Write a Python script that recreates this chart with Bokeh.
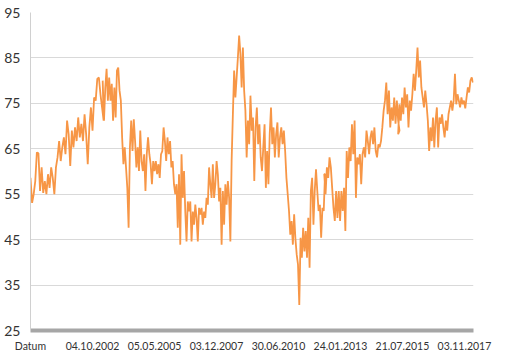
import numpy as np
from bokeh.plotting import figure
from bokeh.models import FixedTicker, Range1d, ColumnDataSource
from bokeh.embed import file_html
from bokeh.resources import INLINE

# Tick labels of the category (date) axis, one every LABEL_STEP trading days
x_tick_labels = ["Datum", "04.10.2002", "05.05.2005", "03.12.2007",
                 "30.06.2010", "24.01.2013", "21.07.2015", "03.11.2017"]
LABEL_STEP = 650
y_ticks = [25, 35, 45, 55, 65, 75, 85, 95]

# Series values, in six consecutive stretches of time
seg1 = [58.6, 53.1, 55.0, 57.9, 64.2, 64.0, 55.7, 60.9, 55.3, 57.9, 55.0, 59.4,
        56.4, 60.9, 58.6, 55.0, 60.9, 63.1, 66.7, 62.3, 65.3, 67.5, 63.8, 71.2,
        68.2, 61.2, 69.0, 65.3, 69.7, 66.7, 71.9, 67.5, 70.5, 66.7, 72.6, 68.2,
        61.6, 69.7, 74.1, 69.0, 76.3, 75.6, 80.4, 80.7, 77.0, 74.1, 71.2]
seg2 = [80.0, 71.2, 78.5, 82.6, 75.6, 80.7, 75.6, 79.3, 71.2, 78.5, 71.9, 82.2,
        82.9, 77.8, 75.6, 67.5, 61.6, 65.3, 60.9, 56.4, 47.6, 65.3, 71.2, 64.5,
        71.5, 66.7, 60.9, 65.3, 60.1, 69.0, 62.3, 60.1, 63.8, 55.7, 63.8, 67.5,
        63.8, 61.6, 57.2, 62.3, 60.1, 62.3, 59.4, 61.6, 58.6, 63.8, 64.5, 69.7,
        66.7, 62.3, 67.5, 63.8, 66.7, 60.9, 62.3, 57.2, 55.0, 57.2, 49.1]
seg3 = [57.2, 47.6, 59.4, 43.9, 63.8, 54.2, 60.1, 51.2, 44.6, 53.4, 51.2, 53.4,
        44.6, 51.2, 48.3, 52.7, 49.8, 44.6, 52.0, 50.5, 52.0, 48.3, 51.2, 49.8,
        54.2, 52.7, 60.9, 57.2, 54.2, 61.6, 54.2, 57.2, 62.3, 59.4, 53.4, 56.4,
        43.9, 55.7, 48.3, 57.2, 52.7, 57.9, 54.2, 44.6, 62.3, 72.6, 82.2, 76.3,
        80.7, 85.1, 89.9, 85.9, 78.5, 87.3, 77.8, 73.4, 63.1, 71.2, 66.0, 76.3, 70.4]
seg4 = [76.7, 69.0, 71.9, 57.9, 69.7, 74.1, 66.0, 70.4, 63.1, 60.1, 65.3, 70.4,
        56.4, 64.5, 57.2, 68.2, 74.1, 66.0, 69.7, 63.1, 68.2, 70.8, 63.1, 67.5,
        69.7, 66.0, 69.0, 64.5, 58.6, 55.0, 51.3, 46.1, 49.1, 43.9, 50.6, 45.1,
        41.7, 39.5, 30.6, 45.4, 41.0, 47.6, 42.4, 46.9, 41.0, 49.8, 38.8, 55.7,
        58.6, 48.3, 55.7, 60.5, 55.7, 51.3, 52.7, 45.4, 52.0, 51.3, 59.4]
seg5 = [59.4, 55.0, 60.9, 58.6, 63.1, 60.9, 56.4, 52.0, 49.1, 55.7, 49.8, 55.7,
        49.1, 55.7, 51.3, 56.4, 46.9, 64.5, 58.6, 65.3, 62.3, 70.4, 63.8, 71.2,
        54.2, 63.1, 61.6, 63.8, 57.2, 63.8, 65.3, 63.1, 69.0, 66.7, 63.8, 67.5,
        69.0, 66.0, 69.7, 64.5, 63.1, 66.0, 65.3, 66.7, 69.7, 73.4, 75.6, 79.6,
        72.6, 77.8, 69.7, 74.1, 71.2, 76.3, 70.5, 75.6, 71.2, 69.0]
seg6 = [68.2, 74.8, 71.2, 76.3, 72.6, 78.5, 74.1, 77.0, 69.7, 75.6, 73.4, 77.0,
        81.5, 77.8, 82.2, 87.3, 80.7, 84.4, 78.5, 76.3, 74.1, 77.8, 74.8, 71.2,
        64.5, 69.7, 66.7, 71.9, 65.3, 71.2, 74.1, 65.3, 71.9, 70.5, 72.6, 69.7,
        67.5, 71.2, 69.0, 72.6, 74.1, 75.6, 73.4, 75.6, 81.5, 74.8, 77.0, 75.6,
        74.1, 76.3, 74.8, 75.6, 73.9, 76.3, 78.5, 77.4, 80.0, 80.7, 79.6]
segments = [seg1, seg2, seg3, seg4, seg5, seg6]
# first / last trading-day index of each stretch
seg_days = [(0, 767), (757, 1545), (1531, 2319), (2306, 3088), (3080, 3869), (3855, 4640)]

xs, ys = [], []
for seg, (d0, d1) in zip(segments, seg_days):
    xs.extend(np.linspace(d0, d1, len(seg)))
    ys.extend(seg)
src = ColumnDataSource(dict(x=xs, y=ys))

p = figure(width=506, height=357, output_backend="svg", toolbar_location=None,
           x_range=Range1d(0, 4645), y_range=Range1d(25, 95),
           min_border_left=30, min_border_right=33, min_border_top=12,
           min_border_bottom=27)
p.outline_line_color = None
p.background_fill_color = "white"
p.border_fill_color = "white"

p.line("x", "y", source=src, line_color="#f79646", line_width=1.8)

p.xgrid.visible = False
p.ygrid.ticker = FixedTicker(ticks=y_ticks)
p.ygrid.grid_line_color = "#d9d9d9"
p.ygrid.grid_line_width = 1

ya = p.yaxis[0]
ya.ticker = FixedTicker(ticks=y_ticks)
ya.axis_line_color = "#d0d0d0"
ya.major_tick_line_color = None
ya.minor_tick_line_color = None
ya.major_label_text_font = "Lato"
ya.major_label_text_font_size = "14px"
ya.major_label_text_color = "#333333"
ya.major_label_standoff = 4

xa = p.xaxis[0]
xa.ticker = FixedTicker(ticks=[i * LABEL_STEP for i in range(len(x_tick_labels))])
xa.major_label_overrides = {i * LABEL_STEP: lab for i, lab in enumerate(x_tick_labels)}
xa.axis_line_color = "#a6a6a6"
xa.axis_line_width = 4
xa.major_tick_line_color = None
xa.minor_tick_line_color = None
xa.major_label_text_font = "Lato"
xa.major_label_text_font_size = "10.5px"
xa.major_label_text_color = "#333333"
xa.major_label_standoff = 3

open("out.html", "w").write(file_html(p, INLINE))
